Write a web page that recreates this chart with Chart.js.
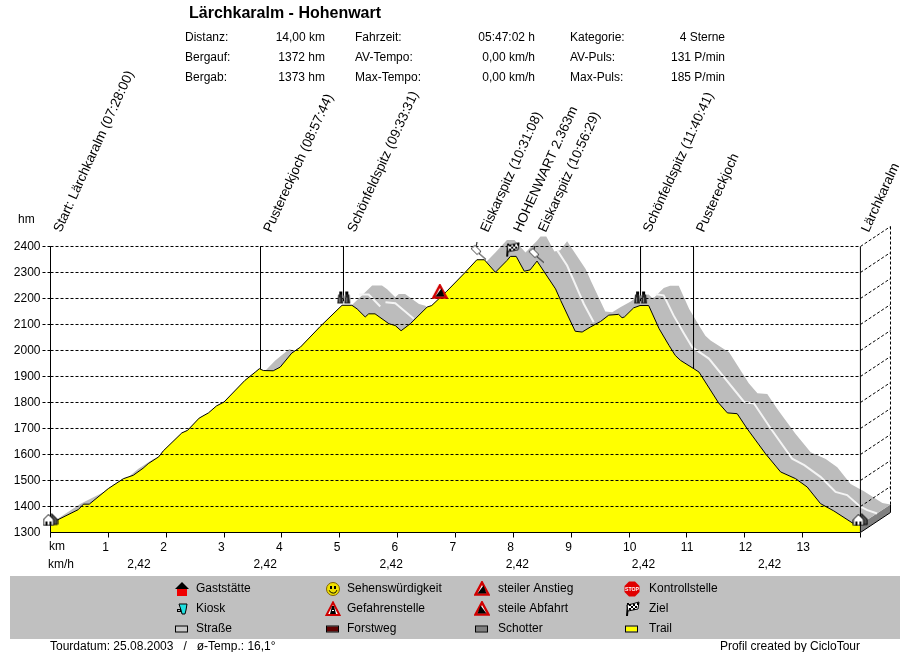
<!DOCTYPE html>
<html><head><meta charset="utf-8"><title>Lärchkaralm - Hohenwart</title>
<style>html,body{margin:0;padding:0;background:#fff}canvas{display:block}</style>
<script src="https://cdn.jsdelivr.net/npm/chart.js@4"></script></head>
<body><canvas id="c" width="910" height="652"></canvas>
<script>
const profileKm=[0,.48,.57,.67,1.0,1.26,1.43,1.6,1.69,1.87,1.95,2.27,2.37,2.57,2.73,2.87,3.0,3.36,3.54,3.61,3.68,3.85,3.97,4.17,4.32,4.66,5.04,5.21,5.30,5.44,5.50,5.61,5.85,5.96,6.06,6.22,6.51,6.59,6.85,7.17,7.37,7.50,7.69,7.89,7.95,8.05,8.19,8.29,8.41,8.73,8.82,9.07,9.19,9.33,9.51,9.65,9.82,9.88,9.92,10.08,10.19,10.34,10.52,10.69,10.80,10.89,11.12,11.21,11.55,11.70,11.87,12.04,12.36,12.62,12.88,13.08,13.31,13.54,13.86,14.0];
const profileHm=[1335,1388,1409,1409,1469,1507,1520,1547,1565,1591,1614,1683,1693,1740,1760,1787,1802,1885,1917,1930,1923,1922,1936,1990,2013,2092,2174,2174,2160,2129,2141,2141,2103,2096,2076,2103,2167,2173,2228,2301,2349,2349,2301,2346,2362,2362,2305,2310,2344,2237,2192,2074,2071,2090,2112,2136,2139,2126,2129,2164,2173,2173,2084,2020,1981,1962,1930,1917,1798,1760,1757,1700,1603,1533,1507,1475,1411,1383,1337,1332];
const rearKm=[0,.52,1.0,1.09,1.19,1.52,1.78,1.95,2.12,2.21,2.39,2.47,2.79,2.89,3.09,3.25,3.39,3.52,3.88,4.06,4.13,4.20,4.37,4.49,4.69,4.84,5.18,5.56,5.73,5.82,5.96,6.02,6.13,6.37,6.48,6.58,6.74,7.03,7.11,7.37,7.69,7.89,8.02,8.21,8.41,8.47,8.57,8.71,8.81,8.93,9.25,9.34,9.59,9.71,9.85,10.03,10.17,10.34,10.40,10.44,10.60,10.71,10.86,11.04,11.21,11.32,11.41,11.64,11.73,12.07,12.22,12.39,12.56,12.88,13.14,13.40,13.60,13.83,14.06,14.38,14.52];
const rearHm=[1335,1411,1464,1485,1485,1545,1583,1596,1623,1641,1667,1690,1759,1769,1816,1836,1863,1878,1961,1993,2006,1999,1998,2012,2066,2089,2168,2250,2250,2236,2205,2217,2217,2179,2172,2152,2179,2243,2249,2304,2377,2425,2425,2377,2422,2438,2438,2381,2386,2420,2313,2268,2150,2147,2166,2188,2212,2215,2202,2205,2240,2249,2249,2160,2096,2057,2038,2006,1993,1874,1836,1833,1776,1679,1609,1583,1551,1487,1459,1413,1408];
const stripeKm=[5.33,5.50,5.70,null,5.79,5.96,6.28,null,8.76,8.93,9.22,9.39,null,10.46,10.60,10.77,10.95,11.09,11.38,11.99,12.16,12.45,12.82,13.03,13.31,13.57,13.77,14.00,14.12,14.29];
const stripeHm=[2215,2215,2169,null,2186,2182,2122,null,2385,2327,2179,2109,null,2216,2212,2135,2065,2013,1969,1802,1796,1700,1584,1559,1514,1456,1444,1399,1386,1373];
const markerKm=[3.63,5.0647,10.199,11.115];
const markerHm=[1930,2190,2190,1930];
const levels=[1400,1500,1600,1700,1800,1900,2000,2100,2200,2300,2400];
const kmTicks=['','1','2','3','4','5','6','7','8','9','10','11','12','13',''];
const waypointNames=['Start: Lärchkaralm (07:28:00)','Pustereckjoch (08:57:44)','Schönfeldspitz (09:33:31)','Eiskarspitz (10:31:08)','HOHENWART 2.363m','Eiskarspitz (10:56:29)','Schönfeldspitz (11:40:41)','Pustereckjoch','Lärchkaralm'];
const waypointKm=[0.07,3.7,5.15,7.45,8.02,8.45,10.26,11.18,14.03];
const iconKm=[0,14,5.07,10.2,7.39,8.39,7.98,6.73];
const iconHm=[1350,1350,2204,2204,2381,2369,2388,2227];
const iconKinds=['house','house','binoc','binoc','pin','pin','flag','steep'];
const speedKm=[1.53,3.71,5.89,8.07,10.25,12.43];
const speedLabels=['2,42','2,42','2,42','2,42','2,42','2,42'];
const statsLeft=[['Distanz:','14,00 km'],['Bergauf:','1372 hm'],['Bergab:','1373 hm']];
const statsMid=[['Fahrzeit:','05:47:02 h'],['AV-Tempo:','0,00 km/h'],['Max-Tempo:','0,00 km/h']];
const statsRight=[['Kategorie:','4 Sterne'],['AV-Puls:','131 P/min'],['Max-Puls:','185 P/min']];
const legendRows=[
 [['Gaststätte','redhouse'],['Sehenswürdigkeit','smile'],['steiler Anstieg','steep'],['Kontrollstelle','stop']],
 [['Kiosk','kiosk'],['Gefahrenstelle','danger'],['steile Abfahrt','steepd'],['Ziel','flag']],
 [['Straße','rc:#c8c8c8'],['Forstweg','rc:#600000'],['Schotter','rc:#808080'],['Trail','rc:#ffff00']]];

const FONT='"Liberation Sans", Arial, sans-serif';
function mk(w,h,fn){const c=document.createElement('canvas');c.width=w;c.height=h;const g=c.getContext('2d');g.lineWidth=1;fn(g);return c;}
function poly(g,p,f,s,lw){g.beginPath();p.forEach((q,i)=>i?g.lineTo(q[0],q[1]):g.moveTo(q[0],q[1]));g.closePath();if(f){g.fillStyle=f;g.fill();}if(s){g.strokeStyle=s;g.lineWidth=lw||1;g.stroke();}}
const icons={
 house:mk(16,14,g=>{poly(g,[[9,1],[15,7],[15,12],[9,12]],'#505050','#000');poly(g,[[1,7],[6,2],[11,7],[11,13],[1,13]],'#fff','#000');g.fillStyle='#000';g.fillRect(3,9,2,4);g.fillRect(7,9,2,4);}),
 binoc:mk(15,14,g=>{g.fillStyle='#000';g.fillRect(3,1,3,3);g.fillRect(9,1,3,3);poly(g,[[2,4],[6,4],[7,13],[1,13]],'#222');poly(g,[[9,4],[13,4],[14,13],[8,13]],'#222');g.fillStyle='#888';g.fillRect(3,7,1,5);g.fillRect(10,7,1,5);g.fillRect(7,5,1,3);}),
 pin:mk(18,18,g=>{g.strokeStyle='#000';g.beginPath();g.moveTo(10,11);g.lineTo(17,17);g.moveTo(8,0);g.lineTo(7,4);g.stroke();poly(g,[[2,6],[6,3],[12,9],[8,12]],'#fff','#444');}),
 flag:mk(16,16,g=>{g.strokeStyle='#000';g.lineWidth=2;g.beginPath();g.moveTo(4,2);g.lineTo(3,15);g.stroke();poly(g,[[3,4],[8,3],[15,1],[14,8],[9,9],[4,10]],'#fff','#000');g.fillStyle='#000';[[5,3],[9,3],[13,2],[7,5],[11,5],[5,7],[9,7]].forEach(q=>g.fillRect(q[0],q[1],2,2));}),
 steep:mk(16,15,g=>{poly(g,[[8,1.5],[14.5,13.5],[1.5,13.5]],'#fff','#d00000',2.5);poly(g,[[9.5,4.5],[12.5,12.5],[3.5,12.5]],'#000');}),
 steepd:mk(16,15,g=>{poly(g,[[8,1.5],[14.5,13.5],[1.5,13.5]],'#fff','#d00000',2.5);poly(g,[[6.5,4.5],[12.5,12.5],[3.5,12.5]],'#000');}),
 danger:mk(16,16,g=>{poly(g,[[8,1.5],[14.5,14],[1.5,14]],'#fff','#d00000',2);g.fillStyle='#000';poly(g,[[7,5],[9,5],[11,13],[5,13]],'#000');g.fillStyle='#fff';g.fillRect(7,9,2,1);}),
 redhouse:mk(14,16,g=>{poly(g,[[7,1],[14,8],[0,8]],'#000');g.fillStyle='#f00000';g.fillRect(2,8,10,7);}),
 kiosk:mk(12,14,g=>{poly(g,[[3,2],[11,2],[10,8],[9,12],[6,12],[5,8]],'#20e0e0','#000');g.strokeStyle='#000';g.strokeRect(1.5,7.5,3,2);}),
 smile:mk(16,16,g=>{g.beginPath();g.arc(8,8,6.5,0,7);g.fillStyle='#f0e000';g.fill();g.strokeStyle='#806000';g.stroke();g.fillStyle='#000';g.fillRect(5,5,2,3);g.fillRect(9,5,2,3);g.strokeStyle='#000';g.beginPath();g.arc(8,8,4,.3,2.8);g.stroke();}),
 stop:mk(16,16,g=>{poly(g,[[5,.5],[11,.5],[15.5,5],[15.5,11],[11,15.5],[5,15.5],[.5,11],[.5,5]],'#e00000');g.fillStyle='#fff';g.font='bold 6px '+FONT;g.textAlign='center';g.textBaseline='middle';g.fillText('STOP',8,8.5,14);})
};
const pts=(xs,ys)=>xs.map((x,i)=>({x:x,y:ys[i]}));
const line=(data,o)=>Object.assign({type:'line',data,pointRadius:0,pointHoverRadius:0,tension:0,fill:false,borderWidth:1,borderColor:'#000',spanGaps:false,clip:false},o);

const gridPts=[];
levels.forEach(h=>{gridPts.push({x:0,y:h},{x:14,y:h},{x:14.52,y:h+76.92},{x:14.52,y:null});});
gridPts.push({x:14.52,y:2476.92},{x:14.52,y:1408});
const framePts=[{x:0,y:2400},{x:0,y:1300},{x:14,y:1300},{x:14,y:2400},{x:14,y:null},{x:14,y:1300},{x:14.52,y:1376.92},{x:14.52,y:1408}];
const markerPts=[];markerKm.forEach((k,i)=>{markerPts.push({x:k,y:2400},{x:k,y:markerHm[i]},{x:k,y:null});});

const overlay={id:'overlay',
 beforeDraw(ch){const g=ch.ctx;g.save();g.fillStyle='#c0c0c0';g.fillRect(10,576,890,63);g.restore();},
 afterDraw(ch){const g=ch.ctx,X=ch.scales.x;g.save();g.fillStyle='#000';g.textBaseline='middle';g.textAlign='left';
  g.font='bold 16px '+FONT;g.fillText('Lärchkaralm - Hohenwart',189,13.5);
  g.font='12px '+FONT;
  const col=(rows,lx,rx)=>rows.forEach((r,i)=>{const y=37.5+20*i;g.textAlign='left';g.fillText(r[0],lx,y);g.textAlign='right';g.fillText(r[1],rx,y);});
  col(statsLeft,185,325);col(statsMid,355,535);col(statsRight,570,725);
  g.textAlign='left';g.fillText('hm',18,220);g.fillText('km',49,547);g.fillText('km/h',48,565);
  g.textAlign='center';speedKm.forEach((k,i)=>g.fillText(speedLabels[i],X.getPixelForValue(k),565));
  g.textAlign='left';
  g.fillText('Tourdatum: 25.08.2003   /   ø-Temp.: 16,1°',50,646.5);
  g.textAlign='right';g.fillText('Profil created by CicloTour',860,646.5);
  g.textAlign='left';
  const lx=[196,347,498,649],ix=[182,333,482,632];
  legendRows.forEach((row,r)=>row.forEach((it,c)=>{const y=588.5+20*r;g.fillStyle='#000';g.fillText(it[0],lx[c],y);
    if(it[1].startsWith('rc:')){g.fillStyle=it[1].slice(3);g.fillRect(ix[c]-6,y-2,11,5);g.strokeStyle='#000';g.lineWidth=1;g.strokeRect(ix[c]-6.5,y-2.5,12,6);}
    else{const m=icons[it[1]];g.drawImage(m,Math.round(ix[c]-m.width/2),Math.round(y-m.height/2));}
  }));
  g.fillStyle='#000';g.font='13.5px '+FONT;g.textBaseline='alphabetic';
  waypointNames.forEach((t,i)=>{g.save();g.translate(X.getPixelForValue(waypointKm[i])+6.5,233);g.rotate(-65.5*Math.PI/180);g.fillText(t,0,0);g.restore();});
  g.restore();}
};
new Chart(document.getElementById('c'),{
 data:{datasets:[
  line(pts(iconKm,iconHm),{order:1,showLine:false,pointRadius:8,pointStyle:iconKinds.map(k=>icons[k])}),
  line(framePts,{order:2}),
  line(markerPts,{order:2}),
  line(gridPts,{order:3,borderDash:[3,2]}),
  line(pts(profileKm,profileHm),{order:4,fill:{value:1300},backgroundColor:'#ffff00'}),
  line(pts(stripeKm,stripeHm),{order:5,borderColor:'#f4f4f4',borderWidth:2}),
  line(pts(profileKm.concat([14.52]),profileHm.concat([1408])),{order:7,borderWidth:0,borderColor:'rgba(0,0,0,0)'}),
  line(pts(rearKm,rearHm),{order:6,borderWidth:0,borderColor:'rgba(0,0,0,0)',fill:'-1',backgroundColor:'#bcbcbc'}),
  line(pts([14,14.52],[1300,1376.92]),{order:9,borderWidth:0,borderColor:'rgba(0,0,0,0)'}),
  line(pts([14,14.52],[1332,1408]),{order:8,borderWidth:0,borderColor:'rgba(0,0,0,0)',fill:'-1',backgroundColor:'#808080'})
 ]},
 options:{responsive:false,devicePixelRatio:1,animation:false,events:[],
  layout:{padding:{top:226.5,right:19.5,bottom:0,left:0}},
  plugins:{legend:{display:false},tooltip:{enabled:false}},
  scales:{
   x:{type:'linear',min:0,max:14.52,afterFit(s){s.height=119.5;},border:{display:false},
      grid:{drawOnChartArea:false,drawTicks:true,tickLength:5,tickColor:'#000'},
      ticks:{stepSize:1,includeBounds:false,autoSkip:false,maxRotation:0,minRotation:0,align:'start',labelOffset:-6,padding:3,color:'#000',font:{family:FONT,size:12},callback:v=>kmTicks[v]===undefined?'':kmTicks[v]}},
   y:{type:'linear',min:1300,max:2476.92,afterFit(s){s.width=50.5;},border:{display:false},
      grid:{drawOnChartArea:false,drawTicks:true,tickLength:8,tickBorderDash:[3,2],tickColor:c=>c.tick&&c.tick.value===1300?'rgba(0,0,0,0)':'#000'},
      ticks:{stepSize:100,includeBounds:false,padding:2,color:'#000',font:{family:FONT,size:12},callback:v=>String(v)}}
  }},
 plugins:[overlay]
});
</script></body></html>
